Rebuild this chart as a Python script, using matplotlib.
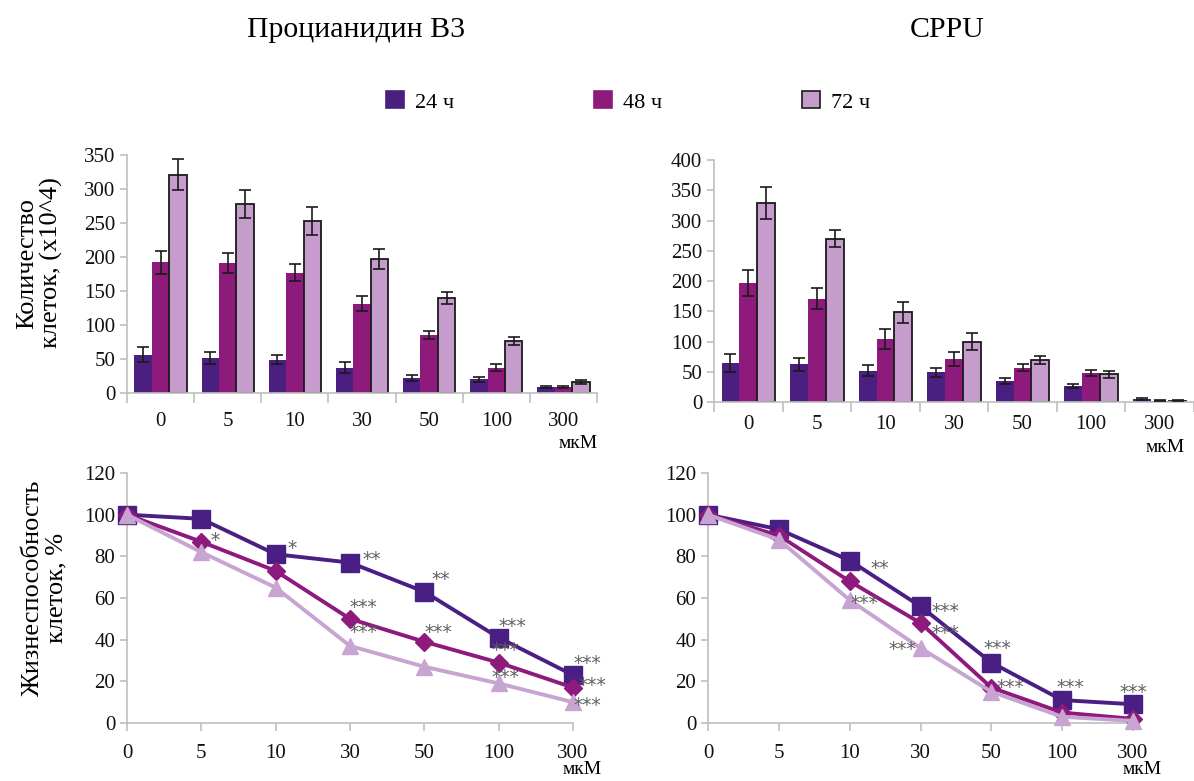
import numpy as np
import matplotlib
matplotlib.use("Agg")
import matplotlib.pyplot as plt
from matplotlib.patches import Patch

plt.rcParams['font.family'] = ['Liberation Serif', 'DejaVu Serif']

# ---- data ----
doses = ["0", "5", "10", "30", "50", "100", "300"]
series_names = ["24 ч", "48 ч", "72 ч"]

# cell counts (x10^4), Procyanidin B3
pb3_24 = [56, 52, 49, 37, 22, 20, 9]
pb3_48 = [192, 191, 177, 131, 85, 37, 9]
pb3_72 = [321, 278, 253, 197, 140, 76, 16]
pb3_24_err = [11, 9, 7, 8, 5, 4, 1]
pb3_48_err = [17, 15, 12, 11, 6, 5, 2]
pb3_72_err = [23, 21, 20, 15, 9, 6, 3]

# cell counts (x10^4), CPPU
cppu_24 = [64, 62, 52, 49, 35, 26, 5]
cppu_48 = [197, 171, 104, 71, 57, 48, 2]
cppu_72 = [329, 270, 148, 100, 69, 46, 2]
cppu_24_err = [15, 11, 9, 8, 5, 3, 1]
cppu_48_err = [21, 17, 16, 12, 6, 5, 1]
cppu_72_err = [27, 14, 17, 14, 7, 6, 1]

# viability, %
pb3_via_24 = [100, 98, 81, 77, 63, 41, 23]
pb3_via_48 = [100, 87, 73, 50, 39, 29, 17]
pb3_via_72 = [100, 82, 65, 37, 27, 19, 10]
cppu_via_24 = [100, 93, 78, 56, 29, 11, 9]
cppu_via_48 = [100, 90, 68, 48, 17, 5, 2]
cppu_via_72 = [100, 88, 59, 36, 15, 3, 1]

# significance marks: (dose index, series index, label)
pb3_stars = [(1, 1, "*"), (2, 0, "*"), (3, 0, "**"), (3, 1, "***"), (3, 2, "***"),
             (4, 0, "**"), (4, 1, "***"), (5, 0, "***"), (5, 1, "***"), (5, 2, "***"),
             (6, 0, "***"), (6, 1, "***"), (6, 2, "***")]
cppu_stars = [(2, 0, "**"), (2, 2, "***"), (3, 0, "***"), (3, 1, "***"), (3, 2, "***"),
              (4, 0, "***"), (4, 1, "***"), (5, 0, "***"), (6, 0, "***")]
# label offsets from the point, pixels (right, down)
pb3_star_off = [(14, -6), (16, -11), (22, -8), (13, -16), (13, -18), (16, -17), (14, -14),
                (14, -16), (7, -17), (7, -11), (14, -17), (19, -7), (14, -2)]
cppu_star_off = [(30, 3), (15, -2), (25, 0), (25, 5), (-18, -3), (6, -19), (19, -5),
                 (8, -18), (0, -17)]

# ---- style ----
bar_colors = ["#4a1f7f", "#8e1a7c", "#c59ccc"]
line_colors = ["#4a1f84", "#8e1a7e", "#c8a4d2"]
markers = ["s", "D", "^"]
msizes = [13, 9, 12]
spine_col = "#bfbfbf"
W, H = 1194, 781

fig = plt.figure(figsize=(W / 100, H / 100), dpi=100)


def px_axes(l, t, r, b):
    return fig.add_axes([l / W, 1 - b / H, (r - l) / W, (b - t) / H])


def style_axes(ax):
    for s in ["top", "right"]:
        ax.spines[s].set_visible(False)
    for s in ["left", "bottom"]:
        ax.spines[s].set_color(spine_col)
        ax.spines[s].set_linewidth(1.2)
    ax.tick_params(axis="both", colors=spine_col, labelcolor="#111111",
                   labelsize=15, length=5, width=1.2, direction="out")


def bar_panel(ax, vals, errs, ymax, pad):
    x = np.arange(len(doses))
    w = 0.26
    for i, (v, e) in enumerate(zip(vals, errs)):
        edge = "#1a1a1a" if i == 2 else "none"
        ax.bar(x + (i - 1) * w, v, w, color=bar_colors[i], edgecolor=edge,
               linewidth=1.3, zorder=2)
        ax.errorbar(x + (i - 1) * w, v, yerr=e, fmt="none", ecolor="#1a1a1a",
                    elinewidth=1.2, capsize=4.5, capthick=1.2, zorder=3)
    ax.set_xlim(-0.5, len(doses) - 0.5)
    ax.set_ylim(0, ymax)
    ax.set_yticks(np.arange(0, ymax + 1, 50))
    ax.set_xticks(x)
    ax.set_xticklabels(doses)
    ax.set_xticks(np.arange(-0.5, len(doses), 1.0), minor=True)
    style_axes(ax)
    ax.tick_params(axis="x", which="major", length=0, pad=pad)
    ax.tick_params(axis="x", which="minor", length=7, width=1.2, colors=spine_col)


def line_panel(ax, vals, stars, offs):
    x = np.arange(len(doses))
    for i, v in enumerate(vals):
        ax.plot(x, v, color=line_colors[i], lw=2.8, marker=markers[i],
                markersize=msizes[i], clip_on=False, zorder=3 + i)
    for (di, si, lab), (dx, dy) in zip(stars, offs):
        # +5 px: asterisks sit high in the text box
        ax.annotate(lab, (x[di], vals[si][di]), xytext=(dx * 0.72, -(dy + 5) * 0.72),
                    textcoords="offset points", ha="center", va="center",
                    fontsize=13.5, color="#5f5f5f", family="DejaVu Sans",
                    annotation_clip=False, zorder=10)
    ax.set_xlim(0, len(doses) - 1)
    ax.set_ylim(0, 120)
    ax.set_yticks(np.arange(0, 121, 20))
    ax.set_xticks(x)
    ax.set_xticklabels(doses)
    style_axes(ax)
    ax.tick_params(axis="x", length=6, pad=9)


ax1 = px_axes(127, 155, 597, 393)
bar_panel(ax1, [pb3_24, pb3_48, pb3_72], [pb3_24_err, pb3_48_err, pb3_72_err], 350, 14)

ax2 = px_axes(714, 160, 1194, 402)
bar_panel(ax2, [cppu_24, cppu_48, cppu_72], [cppu_24_err, cppu_48_err, cppu_72_err], 400, 9)

ax3 = px_axes(127, 473, 573, 723)
line_panel(ax3, [pb3_via_24, pb3_via_48, pb3_via_72], pb3_stars, pb3_star_off)

ax4 = px_axes(708, 473, 1133, 723)
line_panel(ax4, [cppu_via_24, cppu_via_48, cppu_via_72], cppu_stars, cppu_star_off)

# titles
fig.text(356 / W, 1 - 30 / H, "Процианидин B3", ha="center", va="center", fontsize=21.5)
fig.text(947 / W, 1 - 30 / H, "CPPU", ha="center", va="center", fontsize=21.5)

# y labels
fig.text(40 / W, 1 - 263 / H, "Количество\nклеток, (х10^4)", rotation=90,
         ha="center", va="center", fontsize=19, linespacing=1.1)
fig.text(45 / W, 1 - 588 / H, "Жизнеспособность\nклеток, %", rotation=90,
         ha="center", va="center", fontsize=19, linespacing=1.1)

# units
for xp, yp in [(578, 443), (1165, 447), (582, 770), (1142, 770)]:
    fig.text(xp / W, 1 - yp / H, "мкМ", ha="center", va="center", fontsize=14)

# legend
handles = [Patch(facecolor=bar_colors[i], edgecolor="#1a1a1a" if i == 2 else bar_colors[i],
                 linewidth=1.2) for i in range(3)]
fig.legend(handles, series_names, loc="center", bbox_to_anchor=(628 / W, 1 - 102 / H),
           ncol=3, frameon=False, fontsize=16, handlelength=0.8, handleheight=0.8,
           handletextpad=0.5, columnspacing=6.3)

fig.savefig("out.png", dpi=100)
